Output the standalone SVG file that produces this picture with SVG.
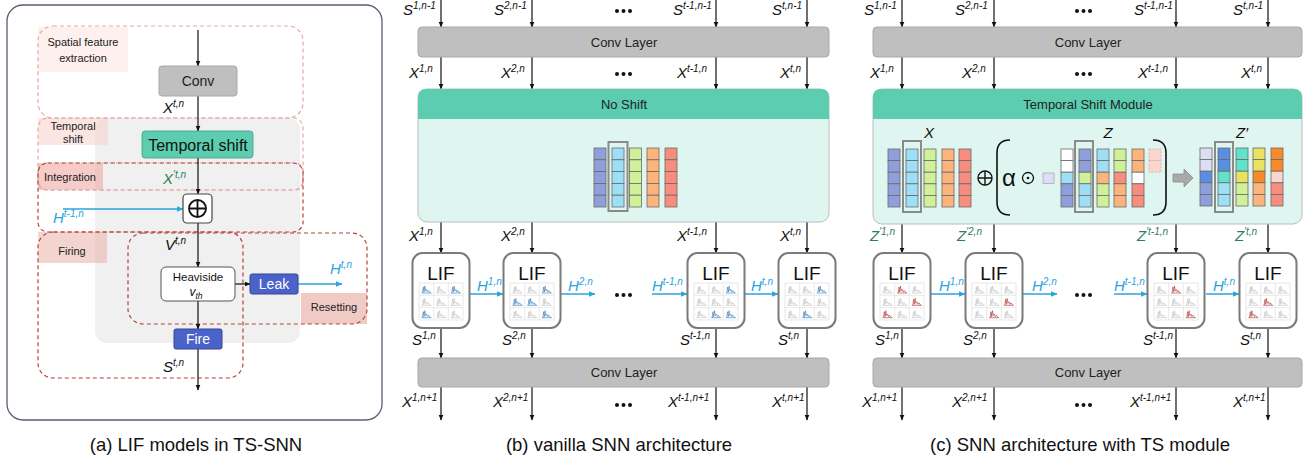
<svg xmlns="http://www.w3.org/2000/svg" xmlns:xlink="http://www.w3.org/1999/xlink" width="1310" height="461" viewBox="0 0 1310 461">
<style>
text{font-family:"Liberation Sans",Arial,sans-serif;}
.v{font-size:15px;font-style:italic;fill:#111;}
.sp{font-size:10px;}
.blue{fill:#2aa5de;}
.grn{fill:#2f7d62;}
.lbl{font-size:11px;fill:#222;text-anchor:middle;}
.ttl{font-size:13px;fill:#222;text-anchor:middle;}
.cap{font-size:18.5px;fill:#111;text-anchor:middle;}
.conv{fill:#bfbfbf;stroke:#a8a8a8;stroke-width:1;}
.hdr{fill:#5ccdb0;}
.body{fill:#dff5ef;stroke:#bdbdbd;stroke-width:1;}
.lif{fill:#fff;stroke:#7a7a7a;stroke-width:2;}
.ln{stroke:#111;stroke-width:1.2;fill:none;marker-end:url(#ah);}
.lb{stroke:#2aa5de;stroke-width:1.6;fill:none;marker-end:url(#ahb);}
.dl{fill:none;stroke:#e3aaa3;stroke-width:1.2;stroke-dasharray:4 3;}
.dr{fill:none;stroke:#b8423a;stroke-width:1.2;stroke-dasharray:4 3;}
.cell{stroke:#6a6a6a;stroke-width:0.8;}
.hl{fill:none;stroke:#8a8a8a;stroke-width:2;}
.p{fill:#8f9fdc}.b{fill:#9fdff5}.g{fill:#d0f09a}.o{fill:#fdb37c}.r{fill:#f78d7e}.w{fill:#ffffff}
.lv{fill:#dcdff3}.B{fill:#5a8ee0}.t{fill:#62e3c9}.y{fill:#e8e162}.O{fill:#f88a2c}.pk{fill:#fbd6cd}
.mg{stroke:#c2c2c2}.mb{stroke:#3a7fc0}.mr{stroke:#b03a3a}
.gc{fill:none;stroke:#e2e2e2;stroke-width:0.8;}
</style>
<defs>
<marker id="ah" markerWidth="6" markerHeight="6" refX="5.5" refY="3" orient="auto" markerUnits="userSpaceOnUse"><path d="M0,0.5 L6,3 L0,5.5 z" fill="#111"/></marker>
<marker id="ahb" markerWidth="7" markerHeight="7" refX="6.5" refY="3.5" orient="auto" markerUnits="userSpaceOnUse"><path d="M0,0.5 L7,3.5 L0,6.5 z" fill="#2aa5de"/></marker>
<symbol id="m" viewBox="0 0 15 12" overflow="visible"><path d="M2.5,10 H12.5 M3.5,10 L4.3,4 L5,9 L5.8,3 L6.6,8 L7.6,6.5 L8.6,9 L9.6,7.5 L11.5,10" fill="none" stroke-width="0.65"/></symbol>
<g id="grid">
<rect class="gc" x="0" y="0" width="44" height="37"/>
<path class="gc" d="M14.7,0 V37 M29.3,0 V37 M0,12.3 H44 M0,24.7 H44"/>
</g>
</defs>

<!-- ===== Panel (a) ===== -->
<g id="panel-a">
<rect x="7" y="5" width="375" height="415" rx="16" fill="#fff" stroke="#5a5e70" stroke-width="1.3"/>
<rect x="95" y="118" width="205" height="225" rx="12" fill="#f0f0f0"/>
<rect x="38" y="27" width="90" height="45" fill="#fdf0ee"/>
<rect x="38" y="118" width="70" height="27" fill="#f6cfca" fill-opacity="0.55"/>
<rect x="38" y="163" width="65" height="27" fill="#eeaaa2" fill-opacity="0.6"/>
<rect x="38" y="232" width="69" height="31" fill="#eab0a8" fill-opacity="0.55"/>
<rect x="301" y="293" width="66" height="31" fill="#f0cbc6"/>
<rect class="dl" x="38" y="26" width="265" height="92" rx="15"/>
<rect class="dl" x="38" y="118" width="265" height="72" rx="10"/>
<rect class="dl" x="38" y="163" width="265" height="27" rx="8"/>
<rect class="dr" x="38" y="163" width="265" height="69" rx="10"/>
<rect class="dr" x="38" y="232" width="205" height="146" rx="15"/>
<rect class="dr" x="128" y="233" width="239" height="91" rx="15"/>
<text class="lbl" x="83" y="46">Spatial feature</text>
<text class="lbl" x="83" y="62">extraction</text>
<text class="lbl" x="73" y="130">Temporal</text>
<text class="lbl" x="73" y="143">shift</text>
<text class="lbl" x="70" y="181">Integration</text>
<text class="lbl" x="72" y="255">Firing</text>
<text class="lbl" x="334" y="311">Resetting</text>
</g>
<g id="connectors-a">
<line class="ln" x1="198" y1="30" x2="198" y2="66"/>
<line class="ln" x1="198" y1="96" x2="198" y2="131"/>
<line class="ln" x1="198" y1="158" x2="198" y2="194"/>
<line class="lb" x1="63" y1="209" x2="183" y2="209" stroke-width="1.2"/>
<line class="ln" x1="198" y1="223" x2="198" y2="267"/>
<line class="ln" x1="235" y1="284" x2="250" y2="284"/>
<line class="lb" x1="298" y1="284" x2="342" y2="284" stroke-width="1.2"/>
<line class="ln" x1="198" y1="301" x2="198" y2="329"/>
<line class="ln" x1="198" y1="349" x2="198" y2="390"/>
</g>
<g id="a-conv"><rect class="conv" x="159" y="66" width="78" height="30" rx="3"/><text x="198" y="86" font-size="14" text-anchor="middle" fill="#222">Conv</text></g>
<g id="a-ts"><rect x="142" y="131" width="111" height="27" rx="3" fill="#5ccdb0" stroke="#3f9f86" stroke-width="0.8"/><text x="198" y="150.5" font-size="16" text-anchor="middle" fill="#111">Temporal shift</text></g>
<g id="a-plus"><rect x="183" y="194" width="29" height="29" rx="4" fill="#fff" stroke="#444" stroke-width="1.2"/><circle cx="197.5" cy="208.5" r="8.5" fill="none" stroke="#111" stroke-width="1.8"/><path d="M189,208.5 H206 M197.5,200 V217" stroke="#111" stroke-width="1.8"/></g>
<g id="a-heav"><rect x="161" y="267" width="74" height="34" rx="5" fill="#fff" stroke="#555" stroke-width="1"/><text x="198" y="281" font-size="11.5" text-anchor="middle" fill="#111">Heaviside</text><text x="196" y="296" font-size="12" font-style="italic" text-anchor="middle" fill="#111">v<tspan font-size="8.5" dy="3">th</tspan></text></g>
<g id="a-leak"><rect x="250" y="274" width="48" height="20" rx="2" fill="#4a62c9" stroke="#34468f" stroke-width="1"/><text x="274" y="289" font-size="14" text-anchor="middle" fill="#fff">Leak</text></g>
<g id="a-fire"><rect x="174" y="329" width="48" height="20" rx="2" fill="#4a62c9" stroke="#34468f" stroke-width="1"/><text x="198" y="344" font-size="14" text-anchor="middle" fill="#fff">Fire</text></g>
<g id="a-labels">
<text class="v" x="163" y="113">X<tspan class="sp" dy="-6">t,n</tspan></text>
<text class="v grn" x="163" y="184">X<tspan class="sp" dy="-6">′t,n</tspan></text>
<text class="v blue" x="53" y="223" font-size="16">H<tspan class="sp" dy="-6">t-1,n</tspan></text>
<text class="v" x="165" y="250">V<tspan class="sp" dy="-6">t,n</tspan></text>
<text class="v blue" x="330" y="274" font-size="16">H<tspan class="sp" dy="-6">t,n</tspan></text>
<text class="v" x="163" y="372">S<tspan class="sp" dy="-6">t,n</tspan></text>
</g>
<text class="cap" x="196" y="451">(a) LIF models in TS-SNN</text>

<!-- ===== Panel (b) ===== -->
<g id="connectors-b">
<line class="ln" x1="441" y1="0" x2="441" y2="27"/><line class="ln" x1="532" y1="0" x2="532" y2="27"/><line class="ln" x1="716" y1="0" x2="716" y2="27"/><line class="ln" x1="807" y1="0" x2="807" y2="27"/>
<line class="ln" x1="441" y1="57" x2="441" y2="89"/><line class="ln" x1="532" y1="57" x2="532" y2="89"/><line class="ln" x1="716" y1="57" x2="716" y2="89"/><line class="ln" x1="807" y1="57" x2="807" y2="89"/>
<line class="ln" x1="441" y1="222" x2="441" y2="253"/><line class="ln" x1="532" y1="222" x2="532" y2="253"/><line class="ln" x1="716" y1="222" x2="716" y2="253"/><line class="ln" x1="807" y1="222" x2="807" y2="253"/>
<line class="ln" x1="441" y1="328" x2="441" y2="358"/><line class="ln" x1="532" y1="328" x2="532" y2="358"/><line class="ln" x1="716" y1="328" x2="716" y2="358"/><line class="ln" x1="807" y1="328" x2="807" y2="358"/>
<line class="ln" x1="441" y1="387" x2="441" y2="420"/><line class="ln" x1="532" y1="387" x2="532" y2="420"/><line class="ln" x1="716" y1="387" x2="716" y2="420"/><line class="ln" x1="807" y1="387" x2="807" y2="420"/>
<line class="lb" x1="469" y1="294" x2="503" y2="294"/>
<line class="lb" x1="561" y1="294" x2="595" y2="294"/>
<line class="lb" x1="652" y1="294" x2="687" y2="294"/>
<line class="lb" x1="744" y1="294" x2="778" y2="294"/>
</g>
<g id="b-conv1"><rect class="conv" x="418" y="27" width="411" height="30" rx="4"/><text class="ttl" x="624" y="47">Conv Layer</text></g>
<g id="b-noshift">
<rect class="body" x="418" y="89" width="411" height="133" rx="9"/>
<path class="hdr" d="M418,119 V97 Q418,89 426,89 H821 Q829,89 829,97 V119 Z"/>
<text class="ttl" x="624" y="109">No Shift</text>
<g>
<rect class="cell p" x="594" y="148" width="12" height="11.8"/><rect class="cell p" x="594" y="159.8" width="12" height="11.8"/><rect class="cell p" x="594" y="171.6" width="12" height="11.8"/><rect class="cell p" x="594" y="183.4" width="12" height="11.8"/><rect class="cell p" x="594" y="195.2" width="12" height="11.8"/>
<rect class="cell b" x="612" y="148" width="12" height="11.8"/><rect class="cell b" x="612" y="159.8" width="12" height="11.8"/><rect class="cell b" x="612" y="171.6" width="12" height="11.8"/><rect class="cell b" x="612" y="183.4" width="12" height="11.8"/><rect class="cell b" x="612" y="195.2" width="12" height="11.8"/>
<rect class="cell g" x="629.5" y="148" width="12" height="11.8"/><rect class="cell g" x="629.5" y="159.8" width="12" height="11.8"/><rect class="cell g" x="629.5" y="171.6" width="12" height="11.8"/><rect class="cell g" x="629.5" y="183.4" width="12" height="11.8"/><rect class="cell g" x="629.5" y="195.2" width="12" height="11.8"/>
<rect class="cell o" x="647" y="148" width="12" height="11.8"/><rect class="cell o" x="647" y="159.8" width="12" height="11.8"/><rect class="cell o" x="647" y="171.6" width="12" height="11.8"/><rect class="cell o" x="647" y="183.4" width="12" height="11.8"/><rect class="cell o" x="647" y="195.2" width="12" height="11.8"/>
<rect class="cell r" x="665" y="148" width="12" height="11.8"/><rect class="cell r" x="665" y="159.8" width="12" height="11.8"/><rect class="cell r" x="665" y="171.6" width="12" height="11.8"/><rect class="cell r" x="665" y="183.4" width="12" height="11.8"/><rect class="cell r" x="665" y="195.2" width="12" height="11.8"/>
<rect class="hl" x="608.5" y="142" width="19" height="69"/>
</g>
</g>
<g id="b-lif1"><rect class="lif" x="412.5" y="253" width="57" height="75" rx="10"/><text x="441" y="280" font-size="19" text-anchor="middle" fill="#111">LIF</text><use href="#grid" x="419" y="283"/>
<use href="#m" class="mb" x="419" y="283" width="15" height="12"/><use href="#m" class="mg" x="433.7" y="283" width="15" height="12"/><use href="#m" class="mb" x="448.3" y="283" width="15" height="12"/>
<use href="#m" class="mg" x="419" y="295.3" width="15" height="12"/><use href="#m" class="mg" x="433.7" y="295.3" width="15" height="12"/><use href="#m" class="mg" x="448.3" y="295.3" width="15" height="12"/>
<use href="#m" class="mb" x="419" y="307.7" width="15" height="12"/><use href="#m" class="mg" x="433.7" y="307.7" width="15" height="12"/><use href="#m" class="mg" x="448.3" y="307.7" width="15" height="12"/></g>
<g id="b-lif2"><rect class="lif" x="503.5" y="253" width="57" height="75" rx="10"/><text x="532" y="280" font-size="19" text-anchor="middle" fill="#111">LIF</text><use href="#grid" x="510" y="283"/>
<use href="#m" class="mg" x="510" y="283" width="15" height="12"/><use href="#m" class="mg" x="524.7" y="283" width="15" height="12"/><use href="#m" class="mb" x="539.3" y="283" width="15" height="12"/>
<use href="#m" class="mb" x="510" y="295.3" width="15" height="12"/><use href="#m" class="mb" x="524.7" y="295.3" width="15" height="12"/><use href="#m" class="mg" x="539.3" y="295.3" width="15" height="12"/>
<use href="#m" class="mg" x="510" y="307.7" width="15" height="12"/><use href="#m" class="mg" x="524.7" y="307.7" width="15" height="12"/><use href="#m" class="mb" x="539.3" y="307.7" width="15" height="12"/></g>
<g id="b-lif3"><rect class="lif" x="687.5" y="253" width="57" height="75" rx="10"/><text x="716" y="280" font-size="19" text-anchor="middle" fill="#111">LIF</text><use href="#grid" x="694" y="283"/>
<use href="#m" class="mg" x="694" y="283" width="15" height="12"/><use href="#m" class="mg" x="708.7" y="283" width="15" height="12"/><use href="#m" class="mb" x="723.3" y="283" width="15" height="12"/>
<use href="#m" class="mg" x="694" y="295.3" width="15" height="12"/><use href="#m" class="mg" x="708.7" y="295.3" width="15" height="12"/><use href="#m" class="mg" x="723.3" y="295.3" width="15" height="12"/>
<use href="#m" class="mg" x="694" y="307.7" width="15" height="12"/><use href="#m" class="mb" x="708.7" y="307.7" width="15" height="12"/><use href="#m" class="mb" x="723.3" y="307.7" width="15" height="12"/></g>
<g id="b-lif4"><rect class="lif" x="778.5" y="253" width="57" height="75" rx="10"/><text x="807" y="280" font-size="19" text-anchor="middle" fill="#111">LIF</text><use href="#grid" x="785" y="283"/>
<use href="#m" class="mg" x="785" y="283" width="15" height="12"/><use href="#m" class="mg" x="799.7" y="283" width="15" height="12"/><use href="#m" class="mb" x="814.3" y="283" width="15" height="12"/>
<use href="#m" class="mg" x="785" y="295.3" width="15" height="12"/><use href="#m" class="mg" x="799.7" y="295.3" width="15" height="12"/><use href="#m" class="mg" x="814.3" y="295.3" width="15" height="12"/>
<use href="#m" class="mg" x="785" y="307.7" width="15" height="12"/><use href="#m" class="mb" x="799.7" y="307.7" width="15" height="12"/><use href="#m" class="mg" x="814.3" y="307.7" width="15" height="12"/></g>
<g id="b-conv2"><rect class="conv" x="418" y="358" width="411" height="29" rx="4"/><text class="ttl" x="624" y="377">Conv Layer</text></g>
<g id="b-labels">
<text class="v" x="403" y="15">S<tspan class="sp" dy="-6">1,n-1</tspan></text>
<text class="v" x="494" y="15">S<tspan class="sp" dy="-6">2,n-1</tspan></text>
<text class="v" x="673" y="15">S<tspan class="sp" dy="-6">t-1,n-1</tspan></text>
<text class="v" x="772" y="15">S<tspan class="sp" dy="-6">t,n-1</tspan></text>
<text class="v" x="409" y="78">X<tspan class="sp" dy="-6">1,n</tspan></text>
<text class="v" x="501" y="78">X<tspan class="sp" dy="-6">2,n</tspan></text>
<text class="v" x="677" y="78">X<tspan class="sp" dy="-6">t-1,n</tspan></text>
<text class="v" x="780" y="78">X<tspan class="sp" dy="-6">t,n</tspan></text>
<text class="v" x="409" y="241">X<tspan class="sp" dy="-6">1,n</tspan></text>
<text class="v" x="501" y="241">X<tspan class="sp" dy="-6">2,n</tspan></text>
<text class="v" x="677" y="241">X<tspan class="sp" dy="-6">t-1,n</tspan></text>
<text class="v" x="780" y="241">X<tspan class="sp" dy="-6">t,n</tspan></text>
<text class="v blue" x="477" y="291" font-size="16">H<tspan class="sp" dy="-6">1,n</tspan></text>
<text class="v blue" x="568" y="291" font-size="16">H<tspan class="sp" dy="-6">2,n</tspan></text>
<text class="v blue" x="652" y="291" font-size="16">H<tspan class="sp" dy="-6">t-1,n</tspan></text>
<text class="v blue" x="751" y="291" font-size="16">H<tspan class="sp" dy="-6">t,n</tspan></text>
<text class="v" x="412" y="345">S<tspan class="sp" dy="-6">1,n</tspan></text>
<text class="v" x="502" y="345">S<tspan class="sp" dy="-6">2,n</tspan></text>
<text class="v" x="680" y="345">S<tspan class="sp" dy="-6">t-1,n</tspan></text>
<text class="v" x="778" y="345">S<tspan class="sp" dy="-6">t,n</tspan></text>
<text class="v" x="402" y="407">X<tspan class="sp" dy="-6">1,n+1</tspan></text>
<text class="v" x="493" y="407">X<tspan class="sp" dy="-6">2,n+1</tspan></text>
<text class="v" x="668" y="407">X<tspan class="sp" dy="-6">t-1,n+1</tspan></text>
<text class="v" x="772" y="407">X<tspan class="sp" dy="-6">t,n+1</tspan></text>
</g>
<g id="b-dots" fill="#111">
<circle cx="617" cy="11" r="2"/><circle cx="623.5" cy="11" r="2"/><circle cx="630" cy="11" r="2"/>
<circle cx="617" cy="74" r="2"/><circle cx="623.5" cy="74" r="2"/><circle cx="630" cy="74" r="2"/>
<circle cx="617" cy="295" r="2"/><circle cx="623.5" cy="295" r="2"/><circle cx="630" cy="295" r="2"/>
<circle cx="617" cy="405" r="2"/><circle cx="623.5" cy="405" r="2"/><circle cx="630" cy="405" r="2"/>
</g>
<text class="cap" x="619" y="451">(b) vanilla SNN architecture</text>

<!-- ===== Panel (c) ===== -->
<g id="connectors-c">
<line class="ln" x1="902" y1="0" x2="902" y2="27"/><line class="ln" x1="994" y1="0" x2="994" y2="27"/><line class="ln" x1="1176" y1="0" x2="1176" y2="27"/><line class="ln" x1="1268" y1="0" x2="1268" y2="27"/>
<line class="ln" x1="902" y1="57" x2="902" y2="89"/><line class="ln" x1="994" y1="57" x2="994" y2="89"/><line class="ln" x1="1176" y1="57" x2="1176" y2="89"/><line class="ln" x1="1268" y1="57" x2="1268" y2="89"/>
<line class="ln" x1="902" y1="224" x2="902" y2="253"/><line class="ln" x1="994" y1="224" x2="994" y2="253"/><line class="ln" x1="1176" y1="224" x2="1176" y2="253"/><line class="ln" x1="1268" y1="224" x2="1268" y2="253"/>
<line class="ln" x1="902" y1="328" x2="902" y2="358"/><line class="ln" x1="994" y1="328" x2="994" y2="358"/><line class="ln" x1="1176" y1="328" x2="1176" y2="358"/><line class="ln" x1="1268" y1="328" x2="1268" y2="358"/>
<line class="ln" x1="902" y1="387" x2="902" y2="420"/><line class="ln" x1="994" y1="387" x2="994" y2="420"/><line class="ln" x1="1176" y1="387" x2="1176" y2="420"/><line class="ln" x1="1268" y1="387" x2="1268" y2="420"/>
<line class="lb" x1="931" y1="294" x2="965" y2="294"/>
<line class="lb" x1="1023" y1="294" x2="1057" y2="294"/>
<line class="lb" x1="1114" y1="294" x2="1147" y2="294"/>
<line class="lb" x1="1206" y1="294" x2="1239" y2="294"/>
</g>
<g id="c-conv1"><rect class="conv" x="873" y="27" width="429" height="30" rx="4"/><text class="ttl" x="1088" y="47">Conv Layer</text></g>
<g id="c-tsm">
<rect class="body" x="873" y="89" width="429" height="135" rx="9"/>
<path class="hdr" d="M873,119 V97 Q873,89 881,89 H1294 Q1302,89 1302,97 V119 Z"/>
<text class="ttl" x="1088" y="109">Temporal Shift Module</text>
<text x="929" y="138" font-size="15" font-style="italic" text-anchor="middle" fill="#111">X</text>
<text x="1108" y="138" font-size="15" font-style="italic" text-anchor="middle" fill="#111">Z</text>
<text x="1242" y="138" font-size="15" font-style="italic" text-anchor="middle" fill="#111">Z′</text>
<!-- X -->
<rect class="cell p" x="888" y="149" width="12" height="11.6"/><rect class="cell p" x="888" y="160.6" width="12" height="11.6"/><rect class="cell p" x="888" y="172.2" width="12" height="11.6"/><rect class="cell p" x="888" y="183.8" width="12" height="11.6"/><rect class="cell p" x="888" y="195.4" width="12" height="11.6"/>
<rect class="cell b" x="906" y="149" width="12" height="11.6"/><rect class="cell b" x="906" y="160.6" width="12" height="11.6"/><rect class="cell b" x="906" y="172.2" width="12" height="11.6"/><rect class="cell b" x="906" y="183.8" width="12" height="11.6"/><rect class="cell b" x="906" y="195.4" width="12" height="11.6"/>
<rect class="cell g" x="924" y="149" width="12" height="11.6"/><rect class="cell g" x="924" y="160.6" width="12" height="11.6"/><rect class="cell g" x="924" y="172.2" width="12" height="11.6"/><rect class="cell g" x="924" y="183.8" width="12" height="11.6"/><rect class="cell g" x="924" y="195.4" width="12" height="11.6"/>
<rect class="cell o" x="942" y="149" width="12" height="11.6"/><rect class="cell o" x="942" y="160.6" width="12" height="11.6"/><rect class="cell o" x="942" y="172.2" width="12" height="11.6"/><rect class="cell o" x="942" y="183.8" width="12" height="11.6"/><rect class="cell o" x="942" y="195.4" width="12" height="11.6"/>
<rect class="cell r" x="959" y="149" width="12" height="11.6"/><rect class="cell r" x="959" y="160.6" width="12" height="11.6"/><rect class="cell r" x="959" y="172.2" width="12" height="11.6"/><rect class="cell r" x="959" y="183.8" width="12" height="11.6"/><rect class="cell r" x="959" y="195.4" width="12" height="11.6"/>
<rect class="hl" x="903" y="141" width="18" height="71"/>
<circle cx="985" cy="178" r="7" fill="none" stroke="#111" stroke-width="1.4"/><path d="M978,178 H992 M985,171 V185" stroke="#111" stroke-width="1.4"/>
<path d="M1010,140 Q997,140 997,153 L997,202 Q997,215 1010,215" fill="none" stroke="#111" stroke-width="1.6"/>
<text x="1009" y="186" font-size="24" text-anchor="middle" fill="#111">α</text>
<circle cx="1028" cy="178" r="5.5" fill="none" stroke="#111" stroke-width="1.3"/><circle cx="1028" cy="178" r="1.3" fill="#111"/>
<rect x="1043" y="173" width="11" height="10.5" fill="#dde0f5" stroke="#aab" stroke-width="0.8"/>
<!-- Z -->
<rect class="cell w" x="1061" y="149" width="12" height="11.6"/><rect class="cell w" x="1061" y="160.6" width="12" height="11.6"/><rect class="cell b" x="1061" y="172.2" width="12" height="11.6"/><rect class="cell p" x="1061" y="183.8" width="12" height="11.6"/><rect class="cell p" x="1061" y="195.4" width="12" height="11.6"/>
<rect class="cell p" x="1079" y="149" width="12" height="11.6"/><rect class="cell p" x="1079" y="160.6" width="12" height="11.6"/><rect class="cell g" x="1079" y="172.2" width="12" height="11.6"/><rect class="cell b" x="1079" y="183.8" width="12" height="11.6"/><rect class="cell b" x="1079" y="195.4" width="12" height="11.6"/>
<rect class="cell b" x="1097" y="149" width="12" height="11.6"/><rect class="cell b" x="1097" y="160.6" width="12" height="11.6"/><rect class="cell o" x="1097" y="172.2" width="12" height="11.6"/><rect class="cell g" x="1097" y="183.8" width="12" height="11.6"/><rect class="cell g" x="1097" y="195.4" width="12" height="11.6"/>
<rect class="cell g" x="1114" y="149" width="12" height="11.6"/><rect class="cell g" x="1114" y="160.6" width="12" height="11.6"/><rect class="cell r" x="1114" y="172.2" width="12" height="11.6"/><rect class="cell o" x="1114" y="183.8" width="12" height="11.6"/><rect class="cell o" x="1114" y="195.4" width="12" height="11.6"/>
<rect class="cell o" x="1132" y="149" width="12" height="11.6"/><rect class="cell o" x="1132" y="160.6" width="12" height="11.6"/><rect class="cell w" x="1132" y="172.2" width="12" height="11.6"/><rect class="cell r" x="1132" y="183.8" width="12" height="11.6"/><rect class="cell r" x="1132" y="195.4" width="12" height="11.6"/>
<rect class="pk" x="1149" y="149" width="12" height="11.6" stroke="#d9aaa3" stroke-width="0.8" stroke-dasharray="2 1.5"/><rect class="pk" x="1149" y="160.6" width="12" height="11.6" stroke="#d9aaa3" stroke-width="0.8" stroke-dasharray="2 1.5"/>
<rect class="hl" x="1075" y="141" width="18" height="71"/>
<path d="M1153,140 Q1166,140 1166,153 L1166,202 Q1166,215 1153,215" fill="none" stroke="#111" stroke-width="1.6"/>
<polygon points="1173,174 1184,174 1184,169 1193,178 1184,187 1184,182 1173,182" fill="#a9a9a9" stroke="#8a8a8a" stroke-width="0.8"/>
<!-- Z' -->
<rect class="cell lv" x="1200" y="148" width="12" height="11.6"/><rect class="cell lv" x="1200" y="159.6" width="12" height="11.6"/><rect class="cell B" x="1200" y="171.2" width="12" height="11.6"/><rect class="cell p" x="1200" y="182.8" width="12" height="11.6"/><rect class="cell p" x="1200" y="194.4" width="12" height="11.6"/>
<rect class="cell B" x="1218" y="148" width="12" height="11.6"/><rect class="cell B" x="1218" y="159.6" width="12" height="11.6"/><rect class="cell t" x="1218" y="171.2" width="12" height="11.6"/><rect class="cell b" x="1218" y="182.8" width="12" height="11.6"/><rect class="cell b" x="1218" y="194.4" width="12" height="11.6"/>
<rect class="cell t" x="1236" y="148" width="12" height="11.6"/><rect class="cell t" x="1236" y="159.6" width="12" height="11.6"/><rect class="cell y" x="1236" y="171.2" width="12" height="11.6"/><rect class="cell g" x="1236" y="182.8" width="12" height="11.6"/><rect class="cell g" x="1236" y="194.4" width="12" height="11.6"/>
<rect class="cell y" x="1253" y="148" width="12" height="11.6"/><rect class="cell y" x="1253" y="159.6" width="12" height="11.6"/><rect class="cell O" x="1253" y="171.2" width="12" height="11.6"/><rect class="cell o" x="1253" y="182.8" width="12" height="11.6"/><rect class="cell o" x="1253" y="194.4" width="12" height="11.6"/>
<rect class="cell O" x="1271" y="148" width="12" height="11.6"/><rect class="cell O" x="1271" y="159.6" width="12" height="11.6"/><rect class="cell pk" x="1271" y="171.2" width="12" height="11.6"/><rect class="cell r" x="1271" y="182.8" width="12" height="11.6"/><rect class="cell r" x="1271" y="194.4" width="12" height="11.6"/>
<rect class="hl" x="1215" y="142" width="18" height="70"/>
</g>
<g id="c-lif1"><rect class="lif" x="873.5" y="253" width="57" height="75" rx="10"/><text x="902" y="280" font-size="19" text-anchor="middle" fill="#111">LIF</text><use href="#grid" x="880" y="283"/>
<use href="#m" class="mg" x="880" y="283" width="15" height="12"/><use href="#m" class="mr" x="894.7" y="283" width="15" height="12"/><use href="#m" class="mg" x="909.3" y="283" width="15" height="12"/>
<use href="#m" class="mg" x="880" y="295.3" width="15" height="12"/><use href="#m" class="mg" x="894.7" y="295.3" width="15" height="12"/><use href="#m" class="mr" x="909.3" y="295.3" width="15" height="12"/>
<use href="#m" class="mr" x="880" y="307.7" width="15" height="12"/><use href="#m" class="mg" x="894.7" y="307.7" width="15" height="12"/><use href="#m" class="mg" x="909.3" y="307.7" width="15" height="12"/></g>
<g id="c-lif2"><rect class="lif" x="965.5" y="253" width="57" height="75" rx="10"/><text x="994" y="280" font-size="19" text-anchor="middle" fill="#111">LIF</text><use href="#grid" x="972" y="283"/>
<use href="#m" class="mg" x="972" y="283" width="15" height="12"/><use href="#m" class="mg" x="986.7" y="283" width="15" height="12"/><use href="#m" class="mg" x="1001.3" y="283" width="15" height="12"/>
<use href="#m" class="mg" x="972" y="295.3" width="15" height="12"/><use href="#m" class="mg" x="986.7" y="295.3" width="15" height="12"/><use href="#m" class="mr" x="1001.3" y="295.3" width="15" height="12"/>
<use href="#m" class="mg" x="972" y="307.7" width="15" height="12"/><use href="#m" class="mr" x="986.7" y="307.7" width="15" height="12"/><use href="#m" class="mg" x="1001.3" y="307.7" width="15" height="12"/></g>
<g id="c-lif3"><rect class="lif" x="1147.5" y="253" width="57" height="75" rx="10"/><text x="1176" y="280" font-size="19" text-anchor="middle" fill="#111">LIF</text><use href="#grid" x="1154" y="283"/>
<use href="#m" class="mg" x="1154" y="283" width="15" height="12"/><use href="#m" class="mr" x="1168.7" y="283" width="15" height="12"/><use href="#m" class="mg" x="1183.3" y="283" width="15" height="12"/>
<use href="#m" class="mg" x="1154" y="295.3" width="15" height="12"/><use href="#m" class="mg" x="1168.7" y="295.3" width="15" height="12"/><use href="#m" class="mg" x="1183.3" y="295.3" width="15" height="12"/>
<use href="#m" class="mg" x="1154" y="307.7" width="15" height="12"/><use href="#m" class="mg" x="1168.7" y="307.7" width="15" height="12"/><use href="#m" class="mr" x="1183.3" y="307.7" width="15" height="12"/></g>
<g id="c-lif4"><rect class="lif" x="1239.5" y="253" width="57" height="75" rx="10"/><text x="1268" y="280" font-size="19" text-anchor="middle" fill="#111">LIF</text><use href="#grid" x="1246" y="283"/>
<use href="#m" class="mg" x="1246" y="283" width="15" height="12"/><use href="#m" class="mg" x="1260.7" y="283" width="15" height="12"/><use href="#m" class="mg" x="1275.3" y="283" width="15" height="12"/>
<use href="#m" class="mg" x="1246" y="295.3" width="15" height="12"/><use href="#m" class="mr" x="1260.7" y="295.3" width="15" height="12"/><use href="#m" class="mg" x="1275.3" y="295.3" width="15" height="12"/>
<use href="#m" class="mr" x="1246" y="307.7" width="15" height="12"/><use href="#m" class="mg" x="1260.7" y="307.7" width="15" height="12"/><use href="#m" class="mg" x="1275.3" y="307.7" width="15" height="12"/></g>
<g id="c-conv2"><rect class="conv" x="873" y="358" width="429" height="29" rx="4"/><text class="ttl" x="1088" y="377">Conv Layer</text></g>
<g id="c-labels">
<text class="v" x="864" y="15">S<tspan class="sp" dy="-6">1,n-1</tspan></text>
<text class="v" x="955" y="15">S<tspan class="sp" dy="-6">2,n-1</tspan></text>
<text class="v" x="1134" y="15">S<tspan class="sp" dy="-6">t-1,n-1</tspan></text>
<text class="v" x="1233" y="15">S<tspan class="sp" dy="-6">t,n-1</tspan></text>
<text class="v" x="870" y="78">X<tspan class="sp" dy="-6">1,n</tspan></text>
<text class="v" x="962" y="78">X<tspan class="sp" dy="-6">2,n</tspan></text>
<text class="v" x="1138" y="78">X<tspan class="sp" dy="-6">t-1,n</tspan></text>
<text class="v" x="1241" y="78">X<tspan class="sp" dy="-6">t,n</tspan></text>
<text class="v grn" x="870" y="241">Z<tspan class="sp" dy="-6">′1,n</tspan></text>
<text class="v grn" x="957" y="241">Z<tspan class="sp" dy="-6">′2,n</tspan></text>
<text class="v grn" x="1137" y="241">Z<tspan class="sp" dy="-6">′t-1,n</tspan></text>
<text class="v grn" x="1235" y="241">Z<tspan class="sp" dy="-6">′t,n</tspan></text>
<text class="v blue" x="939" y="291" font-size="16">H<tspan class="sp" dy="-6">1,n</tspan></text>
<text class="v blue" x="1032" y="291" font-size="16">H<tspan class="sp" dy="-6">2,n</tspan></text>
<text class="v blue" x="1114" y="291" font-size="16">H<tspan class="sp" dy="-6">t-1,n</tspan></text>
<text class="v blue" x="1213" y="291" font-size="16">H<tspan class="sp" dy="-6">t,n</tspan></text>
<text class="v" x="875" y="345">S<tspan class="sp" dy="-6">1,n</tspan></text>
<text class="v" x="963" y="345">S<tspan class="sp" dy="-6">2,n</tspan></text>
<text class="v" x="1143" y="345">S<tspan class="sp" dy="-6">t-1,n</tspan></text>
<text class="v" x="1240" y="345">S<tspan class="sp" dy="-6">t,n</tspan></text>
<text class="v" x="862" y="407">X<tspan class="sp" dy="-6">1,n+1</tspan></text>
<text class="v" x="952" y="407">X<tspan class="sp" dy="-6">2,n+1</tspan></text>
<text class="v" x="1130" y="407">X<tspan class="sp" dy="-6">t-1,n+1</tspan></text>
<text class="v" x="1233" y="407">X<tspan class="sp" dy="-6">t,n+1</tspan></text>
</g>
<g id="c-dots" fill="#111">
<circle cx="1077" cy="11" r="2"/><circle cx="1083.5" cy="11" r="2"/><circle cx="1090" cy="11" r="2"/>
<circle cx="1077" cy="74" r="2"/><circle cx="1083.5" cy="74" r="2"/><circle cx="1090" cy="74" r="2"/>
<circle cx="1077" cy="295" r="2"/><circle cx="1083.5" cy="295" r="2"/><circle cx="1090" cy="295" r="2"/>
<circle cx="1077" cy="405" r="2"/><circle cx="1083.5" cy="405" r="2"/><circle cx="1090" cy="405" r="2"/>
</g>
<text class="cap" x="1080" y="451">(c) SNN architecture with TS module</text>
</svg>
